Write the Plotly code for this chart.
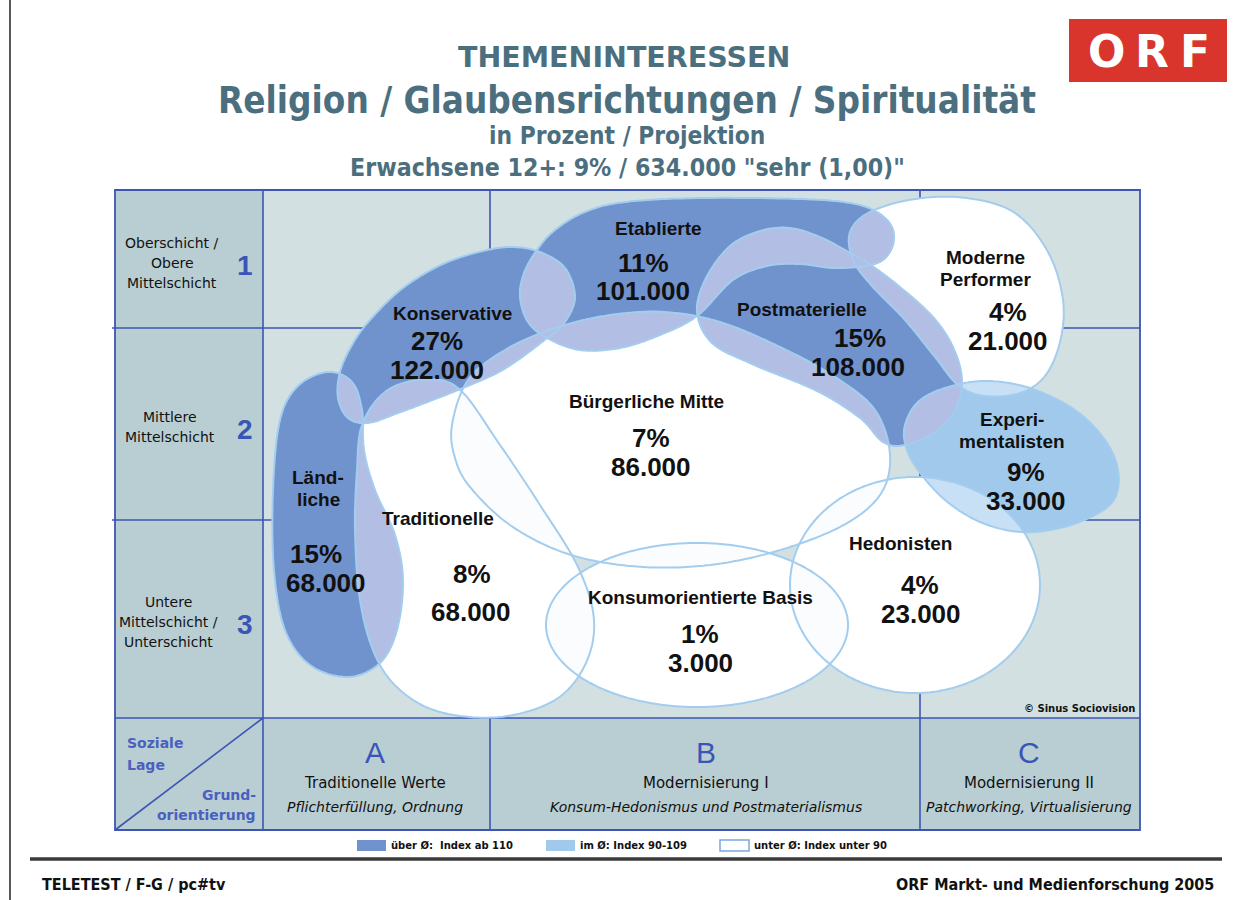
import numpy as np
import plotly.graph_objects as go

# ---------------- data ----------------
milieus = ["Etablierte", "Postmaterielle", "Moderne Performer", "Konservative",
           "Traditionelle", "Ländliche", "Bürgerliche Mitte", "Konsumorientierte Basis",
           "Experimentalisten", "Hedonisten"]
display_names = ["Etablierte", "Postmaterielle", "Moderne\nPerformer", "Konservative",
                 "Traditionelle", "Länd-\nliche", "Bürgerliche Mitte", "Konsumorientierte Basis",
                 "Experi-\nmentalisten", "Hedonisten"]
percent = [11, 15, 4, 27, 8, 15, 7, 1, 9, 4]
projection = [101000, 108000, 21000, 122000, 68000, 68000, 86000, 3000, 33000, 23000]
index_class = ["ueber", "ueber", "unter", "ueber", "unter", "ueber", "unter", "unter", "im", "unter"]

row_labels = [["Oberschicht /", "Obere", "Mittelschicht"], ["Mittlere", "Mittelschicht"],
              ["Untere", "Mittelschicht /", "Unterschicht"]]
row_codes = ["1", "2", "3"]
col_codes = ["A", "B", "C"]
col_titles = ["Traditionelle Werte", "Modernisierung I", "Modernisierung II"]
col_subtitles = ["Pflichterfüllung, Ordnung", "Konsum-Hedonismus und Postmaterialismus",
                 "Patchworking, Virtualisierung"]
legend_labels = ["über Ø:  Index ab 110", "im Ø: Index 90-109", "unter Ø: Index unter 90"]

# ---------------- layout geometry (pixel space) ----------------
W, H = 1233, 900
BOX_X = [115, 263, 490, 920, 1140]
BOX_Y = [190, 328, 520, 718, 830]

OUTLINE = {
    "Etablierte": [(537, 250), (555, 230), (585, 212), (625, 202), (700, 198), (800, 199), (850, 203),
                   (877, 212), (892, 227), (893, 245), (883, 260), (865, 266), (833, 268), (800, 264),
                   (767, 266), (733, 280), (697, 316), (660, 335), (620, 348), (580, 350), (547, 338),
                   (528, 322), (520, 297), (524, 273)],
    "Postmaterielle": [(697, 312), (706, 278), (730, 246), (760, 231), (790, 228), (820, 237), (845, 250),
                       (868, 263), (900, 287), (933, 317), (953, 347), (962, 380), (955, 410), (935, 432),
                       (905, 445), (883, 442), (860, 418), (817, 391), (752, 364), (712, 343)],
    "Moderne Performer": [(850, 232), (870, 212), (915, 199), (967, 198), (1015, 213), (1048, 252),
                          (1063, 300), (1060, 342), (1045, 376), (1020, 393), (985, 396), (958, 385),
                          (935, 357), (905, 320), (872, 286), (853, 260)],
    "Konservative": [(340, 372), (352, 345), (370, 320), (403, 288), (443, 264), (483, 251), (512, 247),
                     (540, 252), (565, 268), (575, 297), (565, 322), (547, 338), (518, 360), (495, 374),
                     (458, 390), (430, 401), (398, 413), (368, 423), (348, 418), (338, 398)],
    "Traditionelle": [(362, 425), (385, 392), (420, 380), (458, 388), (500, 445), (540, 505), (578, 567),
                      (594, 620), (585, 665), (555, 700), (500, 717), (440, 712), (400, 690), (375, 655),
                      (360, 600), (355, 530), (357, 470)],
    "Ländliche": [(328, 372), (352, 382), (362, 410), (364, 450), (375, 490), (395, 535), (403, 580),
                  (397, 630), (380, 663), (348, 677), (310, 665), (285, 630), (274, 570), (273, 490),
                  (280, 420), (298, 386)],
    "Bürgerliche Mitte": [(452, 425), (468, 380), (505, 350), (555, 328), (610, 315), (665, 312),
                          (720, 322), (780, 347), (835, 377), (875, 410), (890, 455), (880, 495),
                          (840, 527), (770, 553), (700, 566), (630, 566), (565, 553), (510, 525),
                          (470, 487), (455, 458)],
    "Konsumorientierte Basis": ("ellipse", 697, 625, 151, 82),
    "Experimentalisten": [(905, 425), (918, 402), (945, 388), (985, 381), (1030, 388), (1075, 410),
                          (1105, 440), (1118, 470), (1115, 498), (1095, 515), (1060, 528), (1020, 532),
                          (980, 522), (945, 500), (918, 470), (906, 447)],
    "Hedonisten": ("ellipse", 915, 585, 125, 108),
}
LABEL_POS = {  # name, percent, projection centres
    "Etablierte": ((658, 228), (643, 263), (643, 291)),
    "Postmaterielle": ((802, 309), (860, 338), (858, 367)),
    "Moderne Performer": ((985, 268), (1008, 312), (1008, 341)),
    "Konservative": ((452, 313), (437, 341), (437, 370)),
    "Traditionelle": ((438, 518), (472, 574), (471, 612)),
    "Ländliche": ((318, 488), (316, 554), (326, 583)),
    "Bürgerliche Mitte": ((646, 401), (651, 438), (651, 467)),
    "Konsumorientierte Basis": ((700, 597), (700, 634), (700, 663)),
    "Experimentalisten": ((1012, 430), (1026, 472), (1026, 501)),
    "Hedonisten": ((900, 543), (920, 585), (921, 614)),
}

FILL = {"ueber": "#7092cd", "im": "#a0c9ec", "unter": "#ffffff"}
LAVENDER = "#b2bee3"
PALE = "#c8e0f5"
OFFWHITE = "#fafcfe"
OUTLINE_COL = "#a3cdef"
GRID_COL = "#3d55b3"
TITLE_COL = "#4c6f80"
BLUE_TXT = "#3a55b8"
COND = "DejaVu Sans Condensed, DejaVu Sans"


# ---------------- geometry helpers ----------------
def closed_spline(pts, n=20):
    P = np.array(pts, float)
    N = len(P)
    t = np.linspace(0, 1, n, endpoint=False)[:, None]
    out = []
    for i in range(N):
        p0, p1, p2, p3 = P[(i - 1) % N], P[i], P[(i + 1) % N], P[(i + 2) % N]
        seg = 0.5 * (2 * p1 + (-p0 + p2) * t + (2 * p0 - 5 * p1 + 4 * p2 - p3) * t ** 2
                     + (-p0 + 3 * p1 - 3 * p2 + p3) * t ** 3)
        out.append(seg)
    return np.vstack(out)


def make_poly(spec):
    if isinstance(spec, tuple) and spec[0] == "ellipse":
        _, cx, cy, rx, ry = spec
        a = np.linspace(0, 2 * np.pi, 360, endpoint=False)
        poly = np.column_stack([cx + rx * np.cos(a), cy + ry * np.sin(a)])
    else:
        poly = closed_spline(spec)
    x, y = poly[:, 0], poly[:, 1]
    area = 0.5 * np.sum(x * np.roll(y, -1) - np.roll(x, -1) * y)
    if area < 0:
        poly = poly[::-1]
    return poly


def inside(pts, poly):
    x = pts[:, 0][:, None]
    y = pts[:, 1][:, None]
    x1 = poly[:, 0][None, :]
    y1 = poly[:, 1][None, :]
    x2 = np.roll(poly[:, 0], -1)[None, :]
    y2 = np.roll(poly[:, 1], -1)[None, :]
    cond = (y1 > y) != (y2 > y)
    with np.errstate(divide="ignore", invalid="ignore"):
        xi = x1 + (y - y1) * (x2 - x1) / (y2 - y1)
    return ((cond & (x < xi)).sum(axis=1) % 2) == 1


def runs(mask):
    n = len(mask)
    if mask.all():
        return [np.arange(n)]
    if not mask.any():
        return []
    start = int(np.argmin(mask))
    idx = (np.arange(n) + start) % n
    res, cur = [], []
    for i in idx:
        if mask[i]:
            cur.append(i)
        elif cur:
            res.append(np.array(cur))
            cur = []
    if cur:
        res.append(np.array(cur))
    return res


def intersect(A, B):
    ma, mb = inside(A, B), inside(B, A)
    if ma.all():
        return [A]
    if mb.all():
        return [B]
    ra = [A[r] for r in runs(ma)]
    rb = [B[r] for r in runs(mb)]
    if not ra or not rb:
        return []
    ua, ub = [False] * len(ra), [False] * len(rb)
    rings = []
    for i0 in range(len(ra)):
        if ua[i0]:
            continue
        ua[i0] = True
        ring = [ra[i0]]
        end = ra[i0][-1]
        turn = "b"
        for _ in range(len(ra) + len(rb) + 2):
            if turn == "b":
                c = [j for j in range(len(rb)) if not ub[j]]
                if not c:
                    break
                j = min(c, key=lambda k: np.hypot(*(rb[k][0] - end)))
                ub[j] = True
                ring.append(rb[j])
                end = rb[j][-1]
                turn = "a"
            else:
                c = [j for j in range(len(ra)) if not ua[j]]
                d0 = np.hypot(*(ra[i0][0] - end))
                if not c:
                    break
                j = min(c, key=lambda k: np.hypot(*(ra[k][0] - end)))
                if np.hypot(*(ra[j][0] - end)) >= d0:
                    break
                ua[j] = True
                ring.append(ra[j])
                end = ra[j][-1]
                turn = "b"
        rings.append(np.vstack(ring))
    return rings


def path_of(poly):
    return "M " + " L ".join(f"{x:.1f},{y:.1f}" for x, y in poly) + " Z"


def fmt_de(v):
    return f"{v:,}".replace(",", ".")


shapes = []
ann = []


def rect(x0, y0, x1, y1, fill, line=None, lw=0):
    shapes.append(dict(type="rect", xref="x", yref="y", x0=x0, y0=y0, x1=x1, y1=y1,
                       fillcolor=fill, line=dict(color=line or fill, width=lw), layer="above"))


def line(x0, y0, x1, y1, color=GRID_COL, width=1.6):
    shapes.append(dict(type="line", xref="x", yref="y", x0=x0, y0=y0, x1=x1, y1=y1,
                       line=dict(color=color, width=width), layer="above"))


def text(x, y, s, size, color="#111111", family="Liberation Sans", bold=False, italic=False,
         xanchor="center"):
    ann.append(dict(x=x, y=y, xref="x", yref="y", text=s, showarrow=False, xanchor=xanchor,
                    yanchor="middle",
                    font=dict(size=size, color=color, family=family,
                              weight="bold" if bold else "normal",
                              style="italic" if italic else "normal")))


# ---------------- frame & grid ----------------
line(10, 0, 10, H, color="#222222", width=1.5)
rect(BOX_X[0], BOX_Y[0], BOX_X[1], BOX_Y[4], "#b9ced2")
rect(BOX_X[1], BOX_Y[3], BOX_X[4], BOX_Y[4], "#b9ced2")
rect(BOX_X[1], BOX_Y[0], BOX_X[4], BOX_Y[3], "#d2e0e2")
for yy in BOX_Y[1:3]:
    line(112, yy, BOX_X[4], yy)
line(BOX_X[0], BOX_Y[3], BOX_X[4], BOX_Y[3])
for xx in BOX_X[1:4]:
    line(xx, BOX_Y[0], xx, BOX_Y[4])
line(BOX_X[0], BOX_Y[4], BOX_X[1], BOX_Y[3])
shapes.append(dict(type="rect", xref="x", yref="y", x0=BOX_X[0], y0=BOX_Y[0], x1=BOX_X[4], y1=BOX_Y[4],
                   line=dict(color=GRID_COL, width=1.8), fillcolor="rgba(0,0,0,0)", layer="above"))

# ---------------- milieu bubbles ----------------
polys = {m: make_poly(OUTLINE[m]) for m in milieus}
cls = dict(zip(milieus, index_class))
for m in milieus:
    shapes.append(dict(type="path", xref="x", yref="y", path=path_of(polys[m]),
                       fillcolor=FILL[cls[m]], line=dict(width=0), layer="above"))

lens = {"off": [], "pale": [], "lav": []}
for i in range(len(milieus)):
    for j in range(i + 1, len(milieus)):
        a, b = milieus[i], milieus[j]
        kinds = {cls[a], cls[b]}
        if "ueber" in kinds:
            key = "lav"
        elif "im" in kinds:
            key = "pale"
        else:
            key = "off"
        for ring in intersect(polys[a], polys[b]):
            if len(ring) >= 3:
                lens[key].append(ring)
for key, col in (("off", OFFWHITE), ("pale", PALE), ("lav", LAVENDER)):
    for ring in lens[key]:
        shapes.append(dict(type="path", xref="x", yref="y", path=path_of(ring),
                           fillcolor=col, line=dict(width=0), layer="above"))
for m in milieus:
    shapes.append(dict(type="path", xref="x", yref="y", path=path_of(polys[m]),
                       fillcolor="rgba(0,0,0,0)", line=dict(color=OUTLINE_COL, width=2), layer="above"))

for m, dn, p, v in zip(milieus, display_names, percent, projection):
    (nx, ny), (px, py), (vx, vy) = LABEL_POS[m]
    parts = dn.split("\n")
    for k, part in enumerate(parts):
        text(nx, ny + (k - (len(parts) - 1) / 2) * 22, part, 19, bold=True)
    text(px, py, f"{p}%", 26, bold=True)
    text(vx, vy, fmt_de(v), 26, bold=True)

# ---------------- row / column labels ----------------
row_centres = [(172, 263), (170, 427), (168, 622)]
for (cx, cy), lines, code in zip(row_centres, row_labels, row_codes):
    for k, s in enumerate(lines):
        text(cx, cy + (k - (len(lines) - 1) / 2) * 20, s, 14, family="DejaVu Sans")
    text(245, cy + 2, code, 28, color=BLUE_TXT, family="Liberation Sans", bold=True)

col_centres = [375, 706, 1029]
for cx, code, t1, t2 in zip(col_centres, col_codes, col_titles, col_subtitles):
    text(cx, 752, code, 30, color=BLUE_TXT, family="Liberation Sans")
    text(cx, 783, t1, 15, family="DejaVu Sans")
    text(cx, 807, t2, 14, family="DejaVu Sans", italic=True)

text(125, 743, "Soziale", 14, color="#4a5fc0", family="DejaVu Sans", bold=True, xanchor="left")
text(125, 765, "Lage", 14, color="#4a5fc0", family="DejaVu Sans", bold=True, xanchor="left")
text(258, 795, "Grund-", 14, color="#4a5fc0", family="DejaVu Sans", bold=True, xanchor="right")
text(258, 815, "orientierung", 14, color="#4a5fc0", family="DejaVu Sans", bold=True, xanchor="right")
text(1137, 708, "© Sinus Sociovision", 10, family="DejaVu Sans", bold=True, xanchor="right")

# ---------------- legend ----------------
leg = [(357, 386, FILL["ueber"], None), (546, 575, FILL["im"], None), (720, 749, "#ffffff", "#7aa6e0")]
for (x0, x1, fc, lc), lab in zip(leg, legend_labels):
    rect(x0, 840, x1, 851, fc, line=lc, lw=1.5 if lc else 0)
    text(x1 + 3, 845.5, lab, 10, family="DejaVu Sans", bold=True, xanchor="left")

# ---------------- titles ----------------
text(624, 57, "THEMENINTERESSEN", 28.5, color=TITLE_COL, family="DejaVu Sans", bold=True)
text(627, 100, "Religion / Glaubensrichtungen / Spiritualität", 36.5, color=TITLE_COL,
     family=COND, bold=True)
text(627, 135, "in Prozent / Projektion", 24.3, color=TITLE_COL, family=COND, bold=True)
text(627, 167, "Erwachsene 12+: 9% / 634.000 \"sehr (1,00)\"", 24.7, color=TITLE_COL,
     family=COND, bold=True)

# ORF logo
rect(1069, 19, 1227, 82, "#d9352c")
for ch, lx in zip("ORF", (1106, 1152, 1195)):
    text(lx, 51, ch, 44, color="#ffffff", family="DejaVu Sans", bold=True)

# footer
line(30, 859, 1222, 859, color="#3a3a3a", width=3.5)
text(40, 884, "TELETEST / F-G / pc#tv", 16, family=COND, bold=True, xanchor="left")
text(1216, 884, "ORF Markt- und Medienforschung 2005", 16, family=COND, bold=True,
     xanchor="right")

fig = go.Figure()
fig.update_layout(
    width=W, height=H, autosize=False,
    margin=dict(l=0, r=0, t=0, b=0),
    paper_bgcolor="#ffffff", plot_bgcolor="#ffffff",
    xaxis=dict(range=[0, W], visible=False, fixedrange=True),
    yaxis=dict(range=[H, 0], visible=False, fixedrange=True),
    shapes=shapes, annotations=ann, showlegend=False,
)
fig.write_html("out.html", config={"displayModeBar": False},
               post_script="document.body.style.margin='0';")
